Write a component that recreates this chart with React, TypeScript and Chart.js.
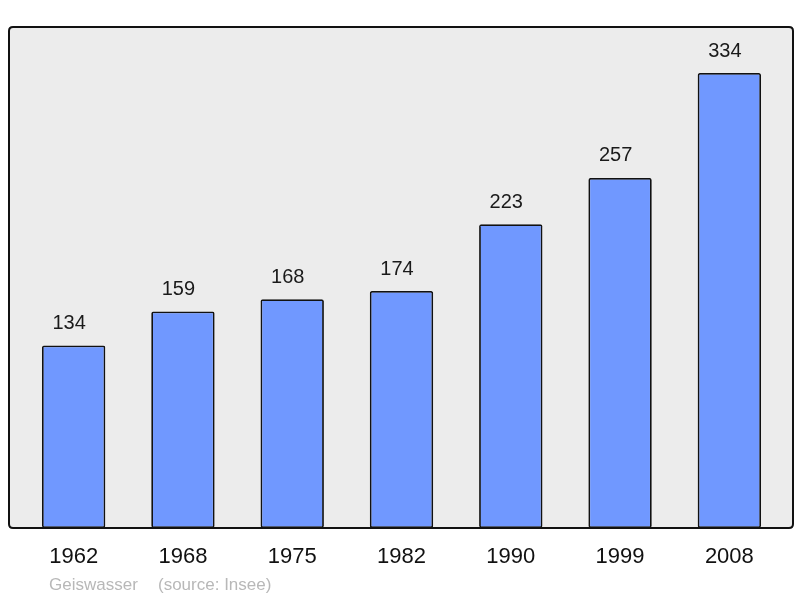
import React, { useEffect, useRef } from "react";
import { Chart, registerables } from "chart.js";

Chart.register(...registerables);

const years = ["1962", "1968", "1975", "1982", "1990", "1999", "2008"];
const population = [134, 159, 168, 174, 223, 257, 334];
const footerAuthor = "Geiswasser";
const footerSource = "(source: Insee)";

const FONT = '"Liberation Sans", Arial, sans-serif';

function framePath(ctx: CanvasRenderingContext2D) {
  const x0 = 9, y0 = 27, x1 = 793, y1 = 528, r = 4;
  ctx.beginPath();
  ctx.moveTo(x0 + r, y0);
  ctx.lineTo(x1 - r, y0);
  ctx.quadraticCurveTo(x1, y0, x1, y0 + r);
  ctx.lineTo(x1, y1 - r);
  ctx.quadraticCurveTo(x1, y1, x1 - r, y1);
  ctx.lineTo(x0 + r, y1);
  ctx.quadraticCurveTo(x0, y1, x0, y1 - r);
  ctx.lineTo(x0, y0 + r);
  ctx.quadraticCurveTo(x0, y0, x0 + r, y0);
  ctx.closePath();
}

const framePlugin = {
  id: "frame",
  beforeDraw(chart: any) {
    const ctx = chart.ctx;
    ctx.save();
    framePath(ctx);
    ctx.fillStyle = "#ececec";
    ctx.fill();
    ctx.restore();
  },
  afterDatasetsDraw(chart: any) {
    const ctx = chart.ctx;
    ctx.save();
    framePath(ctx);
    ctx.lineWidth = 2;
    ctx.strokeStyle = "#111";
    ctx.stroke();

    const xs = chart.scales.x;
    const ys = chart.scales.y;
    ctx.textAlign = "center";
    ctx.textBaseline = "middle";
    ctx.fillStyle = "#1a1a1a";
    ctx.font = `20px ${FONT}`;
    population.forEach((v, i) => {
      const x = xs.getPixelForValue(i);
      const y = ys.getPixelForValue(v);
      ctx.fillText(String(v), x - 4.5, y - 22);
    });
    ctx.fillStyle = "#111";
    ctx.font = `22px ${FONT}`;
    years.forEach((yr, i) => {
      const x = xs.getPixelForValue(i);
      ctx.fillText(yr, x, 557);
    });
    ctx.fillStyle = "#b8b8b8";
    ctx.font = `17px ${FONT}`;
    ctx.textAlign = "left";
    ctx.fillText(footerAuthor, 49, 585);
    ctx.fillText(footerSource, 158, 585);
    ctx.restore();
  },
};

export default function App() {
  const ref = useRef<HTMLCanvasElement>(null);
  useEffect(() => {
    if (!ref.current) return;
    const chart = new Chart(ref.current, {
      type: "bar",
      data: {
        labels: years,
        datasets: [
          {
            data: population,
            backgroundColor: "#7098ff",
            borderColor: "#111",
            borderWidth: 1.8,
            borderRadius: 2,
            borderSkipped: false,
            categoryPercentage: 1,
            barPercentage: 0.58,
          },
        ],
      },
      options: {
        animation: false,
        responsive: false,
        maintainAspectRatio: false,
        layout: { padding: { left: 19, right: 16, top: 27, bottom: 70 } },
        plugins: { legend: { display: false }, tooltip: { enabled: false } },
        scales: {
          x: { display: false },
          y: { display: false, min: 0, max: 367.8 },
        },
      },
      plugins: [framePlugin],
    });
    return () => chart.destroy();
  }, []);
  return (
    <div style={{ position: "absolute", left: 0, top: 0, width: 800, height: 598, background: "#fff" }}>
      <canvas ref={ref} width={800} height={598} style={{ width: 800, height: 598, display: "block" }} />
    </div>
  );
}
